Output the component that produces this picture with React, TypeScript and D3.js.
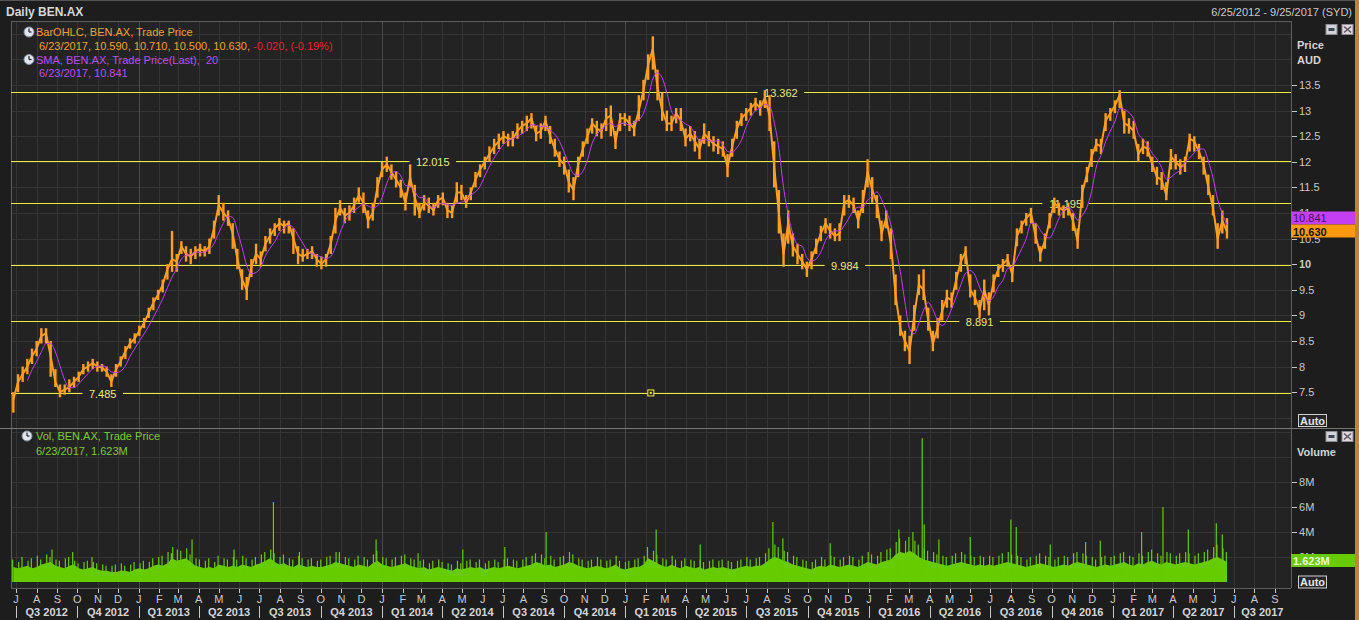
import React from "react";
import * as d3 from "d3";

const FONT = "'Liberation Sans', Arial, Helvetica, sans-serif";

const startDate = "2012-06-25";
const endDate = "2017-09-25";
const firstWeek = "2012-06-25";

// weekly readings (week starting Monday) of the daily OHLC bars
const weeklyClose = [
  7.35, 7.7, 7.85, 8.0, 8.2, 8.35, 8.6, 8.65, 8.2, 7.7,
  7.5, 7.55, 7.6, 7.7, 7.8, 7.95, 8.0, 8.07, 8.0, 7.98,
  7.9, 7.7, 7.95, 8.1, 8.3, 8.45, 8.55, 8.7, 8.85, 9.05,
  9.25, 9.4, 9.6, 9.9, 10.1, 10.05, 10.35, 10.2, 10.15, 10.25,
  10.3, 10.25, 10.35, 10.7, 11.15, 11.0, 10.9, 10.6, 10.1, 9.7,
  9.5, 9.95, 10.2, 10.1, 10.4, 10.55, 10.7, 10.8, 10.75, 10.8,
  10.5, 10.2, 10.15, 10.2, 10.25, 10.1, 10.0, 10.1, 10.4, 10.85,
  11.1, 10.95, 11.0, 11.15, 11.35, 11.2, 10.85, 11.0, 11.5, 11.85,
  11.95, 11.8, 11.65, 11.5, 11.2, 11.7, 11.3, 11.0, 11.2, 11.15,
  11.05, 11.25, 11.3, 11.05, 11.0, 11.4, 11.4, 11.2, 11.4, 11.65,
  11.85, 12.0, 12.15, 12.3, 12.4, 12.5, 12.45, 12.45, 12.6, 12.7,
  12.75, 12.85, 12.55, 12.6, 12.8, 12.5, 12.25, 12.05, 11.95, 11.6,
  11.45, 11.95, 12.25, 12.5, 12.75, 12.65, 12.6, 12.85, 12.9, 12.4,
  12.85, 12.85, 12.75, 12.65, 13.0, 13.4, 13.9, 14.2, 13.45, 13.0,
  12.75, 12.75, 12.95, 12.8, 12.45, 12.55, 12.4, 12.25, 12.55, 12.45,
  12.35, 12.3, 12.25, 11.9, 12.3, 12.65, 12.85, 12.95, 13.05, 13.15,
  13.05, 13.25, 12.9, 11.9, 11.0, 10.2, 10.8, 10.35, 10.2, 10.05,
  9.9, 10.1, 10.35, 10.6, 10.8, 10.65, 10.55, 10.6, 11.2, 11.25,
  11.15, 10.85, 11.2, 11.8, 11.45, 11.2, 10.6, 10.9, 10.4, 9.4,
  8.75, 8.5, 8.3, 9.0, 9.6, 9.5, 8.9, 8.45, 8.75, 9.1,
  9.35, 9.3, 9.7, 10.05, 10.25, 9.5, 9.35, 9.1, 9.5, 9.2,
  9.65, 9.9, 10.0, 10.1, 9.8, 10.55, 10.75, 10.9, 11.0, 10.55,
  10.2, 10.45, 10.85, 11.2, 11.1, 11.05, 11.1, 10.85, 10.45, 11.4,
  11.75, 12.1, 12.35, 12.3, 12.8, 12.95, 13.1, 13.3, 12.75, 12.7,
  12.6, 12.15, 12.3, 12.25, 11.95, 11.7, 11.65, 11.35, 12.1, 12.0,
  11.9, 11.95, 12.45, 12.4, 12.2, 11.95, 11.5, 11.1, 10.5, 10.85,
  10.63,
];

const weeklyHigh = [
  7.5, 7.85, 8.0, 8.15, 8.35, 8.5, 8.75, 8.75, 8.5, 7.95,
  7.65, 7.65, 7.75, 7.8, 7.9, 8.05, 8.1, 8.15, 8.1, 8.05,
  8.0, 7.85, 8.05, 8.2, 8.4, 8.55, 8.65, 8.8, 8.95, 9.15,
  9.35, 9.5, 9.7, 10.0, 10.65, 10.2, 10.45, 10.35, 10.3, 10.35,
  10.4, 10.35, 10.5, 10.85, 11.35, 11.2, 11.05, 10.8, 10.3, 9.9,
  9.75, 10.1, 10.4, 10.25, 10.55, 10.7, 10.8, 10.9, 10.85, 10.85,
  10.7, 10.35, 10.3, 10.3, 10.35, 10.2, 10.15, 10.2, 10.55, 11.1,
  11.25, 11.1, 11.15, 11.3, 11.5, 11.4, 11.05, 11.2, 11.7, 12.0,
  12.1, 11.95, 11.8, 11.65, 11.4, 11.95, 11.55, 11.2, 11.35, 11.3,
  11.2, 11.35, 11.4, 11.2, 11.15, 11.6, 11.55, 11.35, 11.5, 11.8,
  11.95, 12.1, 12.3, 12.45, 12.55, 12.6, 12.55, 12.6, 12.75, 12.8,
  12.9, 12.95, 12.7, 12.75, 12.9, 12.7, 12.45, 12.2, 12.1, 11.85,
  11.7, 12.1, 12.4, 12.65, 12.85, 12.8, 12.75, 13.05, 13.1, 12.6,
  12.95, 12.95, 12.9, 12.8, 13.3, 13.6, 14.1, 14.45, 13.8, 13.35,
  13.0, 12.9, 13.05, 13.05, 12.65, 12.7, 12.6, 12.45, 12.75, 12.6,
  12.5, 12.45, 12.4, 12.15, 12.45, 12.8, 12.95, 13.05, 13.15, 13.25,
  13.2, 13.4, 13.3, 12.4, 11.45, 10.6, 11.05, 10.6, 10.4, 10.2,
  10.05, 10.25, 10.5, 10.75, 10.9, 10.8, 10.7, 10.8, 11.35, 11.35,
  11.3, 11.05, 11.45, 12.05, 11.7, 11.35, 10.85, 11.05, 10.7, 9.8,
  9.0, 8.7, 8.6, 9.2, 9.8, 9.9, 9.15, 8.7, 8.95, 9.3,
  9.5, 9.45, 9.85, 10.2, 10.35, 9.8, 9.5, 9.3, 9.7, 9.45,
  9.8, 10.0, 10.1, 10.2, 9.95, 10.7, 10.85, 11.0, 11.1, 10.8,
  10.35, 10.6, 11.0, 11.3, 11.2, 11.15, 11.2, 11.0, 10.7, 11.55,
  11.9, 12.25, 12.45, 12.45, 12.95, 13.05, 13.2, 13.4, 13.0, 12.85,
  12.8, 12.35, 12.45, 12.4, 12.1, 11.9, 11.8, 11.6, 12.25, 12.15,
  12.05, 12.1, 12.55, 12.5, 12.35, 12.1, 11.75, 11.35, 10.8, 11.05,
  10.9,
];

const weeklyLow = [
  7.1, 7.5, 7.7, 7.85, 8.05, 8.2, 8.45, 8.45, 7.8, 7.6,
  7.4, 7.45, 7.5, 7.6, 7.7, 7.85, 7.9, 7.95, 7.9, 7.9,
  7.8, 7.6, 7.8, 8.0, 8.15, 8.35, 8.45, 8.6, 8.75, 8.95,
  9.1, 9.3, 9.45, 9.7, 9.85, 9.85, 10.2, 10.05, 10.0, 10.1,
  10.15, 10.15, 10.2, 10.5, 10.95, 10.85, 10.75, 10.3, 9.9, 9.5,
  9.3, 9.75, 10.0, 9.95, 10.25, 10.4, 10.55, 10.65, 10.6, 10.6,
  10.2, 10.0, 10.05, 10.1, 10.1, 9.95, 9.9, 9.95, 10.2, 10.6,
  10.95, 10.8, 10.85, 11.0, 11.2, 11.0, 10.7, 10.85, 11.3, 11.7,
  11.8, 11.65, 11.5, 11.3, 11.05, 11.5, 10.95, 10.9, 11.05, 11.0,
  10.95, 11.1, 11.15, 10.9, 10.9, 11.2, 11.25, 11.1, 11.25, 11.5,
  11.7, 11.85, 12.0, 12.15, 12.25, 12.35, 12.3, 12.3, 12.45, 12.55,
  12.6, 12.65, 12.4, 12.45, 12.6, 12.35, 12.1, 11.9, 11.75, 11.4,
  11.25, 11.7, 12.1, 12.35, 12.55, 12.5, 12.45, 12.6, 12.5, 12.25,
  12.6, 12.7, 12.6, 12.5, 12.8, 13.2, 13.6, 13.8, 13.2, 12.8,
  12.6, 12.6, 12.75, 12.6, 12.3, 12.4, 12.2, 12.05, 12.35, 12.3,
  12.2, 12.15, 12.1, 11.7, 12.1, 12.45, 12.7, 12.8, 12.9, 13.0,
  12.9, 13.05, 12.6, 11.5, 10.6, 9.95, 10.4, 10.15, 10.0, 9.9,
  9.75, 9.9, 10.2, 10.45, 10.6, 10.5, 10.45, 10.45, 10.95, 11.1,
  11.0, 10.7, 11.0, 11.5, 11.2, 10.9, 10.45, 10.7, 10.1, 9.2,
  8.6, 8.3, 8.05, 8.7, 9.4, 9.3, 8.7, 8.3, 8.55, 8.9,
  9.15, 9.15, 9.5, 9.85, 10.0, 9.35, 9.2, 8.95, 9.1, 9.0,
  9.45, 9.75, 9.85, 9.95, 9.65, 10.35, 10.6, 10.75, 10.8, 10.4,
  10.05, 10.3, 10.7, 11.0, 10.95, 10.9, 10.95, 10.65, 10.3, 11.1,
  11.6, 11.9, 12.2, 12.15, 12.6, 12.8, 12.95, 13.05, 12.55, 12.55,
  12.45, 12.0, 12.15, 12.1, 11.8, 11.55, 11.45, 11.25, 11.85, 11.85,
  11.75, 11.8, 12.2, 12.2, 12.05, 11.75, 11.35, 10.95, 10.3, 10.6,
  10.5,
];

// weekly typical daily volume, millions
const weeklyVolume = [
  1.2, 1.1, 1.2, 1.3, 1.1, 1.2, 1.4, 1.5,
  1.6, 1.3, 1.2, 1.1, 1.3, 1.4, 1.1, 1.0,
  1.1, 1.2, 1.0, 0.9, 0.9, 0.8, 0.8, 0.9,
  0.9, 0.8, 1.0, 1.1, 1.0, 1.1, 1.3, 1.4,
  1.3, 1.5, 1.9, 1.7, 1.8, 1.9, 1.6, 1.3,
  1.2, 1.1, 1.2, 1.1, 1.4, 1.3, 1.2, 1.3,
  1.2, 1.4, 1.3, 1.2, 1.4, 1.5, 1.7, 1.9,
  1.6, 1.4, 1.5, 1.3, 1.2, 1.4, 1.3, 1.2,
  1.3, 1.2, 1.2, 1.3, 1.4, 1.6, 1.5, 1.4,
  1.3, 1.2, 1.4, 1.3, 1.2, 1.5, 1.7, 1.4,
  1.3, 1.2, 1.3, 1.4, 1.5, 1.3, 1.2, 1.1,
  1.2, 1.0, 1.1, 1.2, 1.1, 1.0, 0.9, 1.1,
  1.0, 1.1, 1.2, 1.1, 1.2, 1.0, 1.1, 1.2,
  1.1, 1.2, 1.3, 1.2, 1.1, 1.2, 1.3, 1.4,
  1.6, 1.5, 1.3, 1.4, 1.2, 1.3, 1.4, 1.6,
  1.5, 1.3, 1.2, 1.1, 1.2, 1.3, 1.2, 1.1,
  1.2, 1.4, 1.1, 1.0, 1.1, 1.2, 1.2, 1.4,
  1.9, 1.7, 1.5, 1.3, 1.2, 1.4, 1.2, 1.1,
  1.3, 1.2, 1.1, 1.2, 1.0, 1.1, 1.2, 1.1,
  1.2, 1.1, 1.0, 1.1, 1.2, 1.3, 1.2, 1.3,
  1.3, 1.5, 1.8, 2.0, 1.9, 1.7, 1.6, 1.4,
  1.3, 1.2, 1.1, 1.0, 1.2, 1.3, 1.2, 1.4,
  1.3, 1.2, 1.3, 1.4, 1.3, 1.2, 1.4, 1.6,
  1.5, 1.4, 1.6, 1.7, 1.8, 2.2, 2.4, 2.3,
  2.5, 2.3, 2.0, 1.8, 1.7, 1.6, 1.5, 1.4,
  1.3, 1.4, 1.5, 1.6, 1.5, 1.4, 1.3, 1.4,
  1.3, 1.4, 1.3, 1.4, 1.5, 1.6, 1.5, 1.4,
  1.3, 1.2, 1.3, 1.4, 1.5, 1.4, 1.3, 1.2,
  1.3, 1.4, 1.3, 1.5, 1.6, 1.5, 1.4, 1.3,
  1.2, 1.3, 1.4, 1.3, 1.4, 1.5, 1.6, 1.4,
  1.3, 1.5, 1.4, 1.6, 1.7, 1.5, 1.4, 1.6,
  1.5, 1.4, 1.5, 1.6, 1.5, 1.4, 1.5, 1.6,
  1.7, 1.9, 2.0, 1.8, 1.6,
];

// weekly highest daily volume, millions
const weeklyVolumePeak = [
  1.8, 1.6, 2.0, 1.7, 1.9, 2.1, 1.8, 2.2,
  2.0, 1.8, 1.7, 1.9, 2.0, 1.7, 1.5, 1.6,
  1.7, 1.6, 1.5, 1.4, 1.3, 1.3, 1.4, 1.5,
  1.3, 1.4, 1.6, 1.5, 1.7, 1.6, 1.9, 2.0,
  2.1, 2.4, 2.3, 2.6, 2.5, 2.7, 2.2, 1.9,
  1.8, 1.7, 1.9, 1.6, 2.1, 1.9, 1.8, 2.0,
  1.8, 2.1, 1.9, 1.8, 2.0, 2.2, 2.4, 2.6,
  2.3, 2.0, 2.2, 1.9, 1.8, 2.1, 1.9, 1.8,
  1.9, 1.7, 1.8, 2.0, 2.1, 2.4, 2.2, 2.0,
  1.9, 1.8, 2.1, 2.0, 1.8, 2.2, 2.5, 2.0,
  1.9, 1.8, 2.0, 2.1, 2.2, 1.9, 1.8, 1.7,
  1.8, 1.5, 1.7, 1.8, 1.6, 1.5, 1.4, 1.7,
  1.5, 1.7, 1.8, 1.6, 1.8, 1.5, 1.7, 1.8,
  1.6, 1.8, 1.9, 1.8, 1.7, 1.8, 2.0, 2.1,
  2.3, 2.2, 1.9, 2.1, 1.8, 2.0, 2.1, 2.4,
  2.2, 1.9, 1.8, 1.7, 1.8, 2.0, 1.8, 1.7,
  1.8, 2.1, 1.7, 1.6, 1.7, 1.8, 1.9, 2.1,
  2.8, 2.5, 2.2, 1.9, 1.8, 2.1, 1.8, 1.7,
  1.9, 1.8, 1.7, 1.8, 1.6, 1.7, 1.8, 1.7,
  1.8, 1.7, 1.6, 1.7, 1.8, 2.0, 1.8, 1.9,
  2.0, 2.3, 2.7, 3.0, 2.8, 2.5, 2.4, 2.1,
  2.0, 1.8, 1.7, 1.6, 1.8, 2.0, 1.8, 2.1,
  2.0, 1.8, 2.0, 2.1, 2.0, 1.8, 2.1, 2.4,
  2.2, 2.1, 2.4, 2.6, 2.7, 3.2, 3.5, 3.3,
  3.6, 3.3, 3.0, 2.7, 2.5, 2.4, 2.2, 2.1,
  2.0, 2.1, 2.3, 2.4, 2.2, 2.1, 2.0, 2.1,
  2.0, 2.1, 2.0, 2.1, 2.3, 2.4, 2.2, 2.1,
  2.0, 1.8, 2.0, 2.1, 2.3, 2.1, 2.0, 1.8,
  2.0, 2.1, 2.0, 2.3, 2.4, 2.3, 2.1, 2.0,
  1.8, 2.0, 2.1, 2.0, 2.1, 2.3, 2.4, 2.1,
  2.0, 2.3, 2.1, 2.4, 2.6, 2.3, 2.1, 2.4,
  2.3, 2.1, 2.3, 2.4, 2.3, 2.1, 2.3, 2.4,
  2.6, 2.8, 3.0, 2.7, 2.4,
];

const spikeDates = [
  "2012-08-24", "2012-09-24", "2012-10-23", "2013-02-21", "2013-03-22",
  "2013-05-24", "2013-07-22", "2013-08-30", "2013-10-29", "2013-12-23",
  "2014-02-24", "2014-05-02", "2014-07-04", "2014-09-04", "2015-02-16",
  "2015-04-23", "2015-08-10", "2015-08-25", "2015-11-04", "2016-02-15",
  "2016-03-07", "2016-03-21", "2016-03-24", "2016-04-15", "2016-06-01",
  "2016-08-01", "2016-08-09", "2016-09-29", "2016-11-21", "2016-12-13",
  "2017-02-13", "2017-03-17", "2017-04-24", "2017-06-05", "2017-06-14",
];
const spikeValues = [
  2.6, 2.4, 2.0, 2.8, 3.4,
  2.6, 6.4, 2.4, 2.4, 3.4,
  2.3, 2.6, 2.8, 4.0, 4.2,
  3.0, 4.8, 3.5, 3.1, 4.2,
  4.0, 11.5, 4.6, 3.4, 3.6,
  5.0, 4.4, 3.0, 3.2, 3.3,
  4.0, 6.0, 4.2, 4.7, 3.8,
];

const levelValues = [13.362, 12.015, 11.195, 9.984, 8.891, 7.485];
const levelLabels = ["13.362", "12.015", "11.195", "9.984", "8.891", "7.485"];
const levelLabelDates = ["2015-08-22", "2014-03-18", "2016-10-22", "2015-11-26", "2016-06-15", "2012-11-08"];
const markerDate = "2015-02-08";
const markerValue = 7.485;

const priceTicks = [7.5, 8, 8.5, 9, 9.5, 10, 10.5, 11, 11.5, 12, 12.5, 13, 13.5];
const priceGrid = [7, 7.5, 8, 8.5, 9, 9.5, 10, 10.5, 11, 11.5, 12, 12.5, 13, 13.5, 14, 14.5];
const volumeTicks = [2, 4, 6, 8];
const volumeGrid = [2, 4, 6, 8, 10, 12];
const monthLetters = ["J", "F", "M", "A", "M", "J", "J", "A", "S", "O", "N", "D"];

const smaWeeks = 4; // 20 trading days
const lastClose = "10.630";
const lastSma = "10.841";
const lastVolume = "1.623M";

const parse = d3.timeParse("%Y-%m-%d");

// layout
const PL = 11, PR = 1291, PT = 21, PB = 428, VB = 588;

const C_BG = "#1d1d1d";
const C_PLOT = "#232323";
const C_GRID = "#353535";
const C_FRAME = "#5e5e5e";
const C_TEXT = "#c8c8c8";
const C_ORANGE = "#ff9e1f";
const C_PURPLE = "#c13ff0";
const C_YELLOW = "#f0ea3c";
const C_GREEN = "#66cc00";

function ClockIcon({ x, y }: { x: number; y: number }) {
  return (
    <g>
      <circle cx={x} cy={y} r={5} fill="#dfe6ee" stroke="#7f8fa0" strokeWidth={1} />
      <line x1={x} y1={y} x2={x} y2={y - 3.5} stroke="#222" strokeWidth={1.2} />
      <line x1={x} y1={y} x2={x + 2.5} y2={y} stroke="#222" strokeWidth={1.2} />
    </g>
  );
}

function PanelIcons({ y }: { y: number }) {
  return (
    <g>
      <rect x={1326} y={y} width={11} height={10} fill="#cfd3d8" stroke="#8a8e94" />
      <rect x={1328.5} y={y + 3.5} width={6} height={3} fill="#3c4654" />
      <rect x={1342} y={y} width={11} height={10} fill="#e6d6dc" stroke="#8a8e94" />
      <line x1={1344} y1={y + 2} x2={1351} y2={y + 8} stroke="#5a5a66" strokeWidth={1.6} />
      <line x1={1351} y1={y + 2} x2={1344} y2={y + 8} stroke="#5a5a66" strokeWidth={1.6} />
    </g>
  );
}

function AutoBox({ y }: { y: number }) {
  return (
    <g>
      <rect x={1298.5} y={y} width={28} height={12} fill="#262626" stroke="#cfcfcf" strokeWidth={1} />
      <text x={1312.5} y={y + 10} textAnchor="middle" fontFamily={FONT} fontSize={11} fontWeight="bold" fill="#e4e4e4">Auto</text>
    </g>
  );
}

export default function App() {
  const x = d3.scaleTime().domain([parse(startDate)!, parse(endDate)!]).range([12, PR]);
  const yP = d3.scaleLinear().domain([6.8, 14.75]).range([PB, PT]);
  const yV = d3.scaleLinear().domain([0, 12.32]).range([582, PB]);

  const week0 = parse(firstWeek)!;
  const weeks = weeklyClose.map((c, i) => ({
    date: d3.timeDay.offset(week0, i * 7 + 2),
    peakDate: d3.timeDay.offset(week0, i * 7 + (i % 2 === 0 ? 1 : 3)),
    close: c,
    high: weeklyHigh[i],
    low: weeklyLow[i],
    vol: weeklyVolume[i],
    peak: weeklyVolumePeak[i],
  }));
  const sma = weeks
    .map((w, i) => ({
      date: w.date,
      v: i >= smaWeeks - 1 ? d3.mean(weeklyClose.slice(i - smaWeeks + 1, i + 1))! : NaN,
    }))
    .filter((d) => !isNaN(d.v));

  const closeLine = d3.line<any>().x((d) => x(d.date)).y((d) => yP(d.close));
  const smaLine = d3.line<any>().x((d) => x(d.date)).y((d) => yP(d.v)).curve(d3.curveMonotoneX);
  const volArea = d3
    .area<any>()
    .x((d) => x(d.date))
    .y0(yV(0))
    .y1((d) => yV(d.vol));

  const months = d3.timeMonth.range(d3.timeMonth.ceil(parse(startDate)!), parse(endDate)!);
  const quarters = months.filter((m) => m.getMonth() % 3 === 0);
  const endD = parse(endDate)!;

  return (
    <svg
      width={1359}
      height={620}
      style={{ position: "fixed", left: 0, top: 0, display: "block" }}
      fontFamily={FONT}
    >
      <rect x={0} y={0} width={1359} height={620} fill={C_BG} />
      {/* header */}
      <line x1={0} y1={0.5} x2={1355} y2={0.5} stroke="#555" />
      <text x={6} y={16} fontSize={12} fontWeight="bold" fill="#d6d6d6">Daily BEN.AX</text>
      <text x={1352} y={16} fontSize={11} fill={C_TEXT} textAnchor="end">6/25/2012 - 9/25/2017 (SYD)</text>

      {/* plot backgrounds */}
      <rect x={PL} y={PT} width={PR - PL} height={VB - PT} fill={C_PLOT} />

      {/* grid */}
      {priceGrid.map((v) => (
        <line key={"pg" + v} x1={PL} x2={PR} y1={Math.round(yP(v)) + 0.5} y2={Math.round(yP(v)) + 0.5} stroke={C_GRID} />
      ))}
      {volumeGrid.map((v) => (
        <line key={"vg" + v} x1={PL} x2={PR} y1={Math.round(yV(v)) + 0.5} y2={Math.round(yV(v)) + 0.5} stroke={C_GRID} />
      ))}
      {months.map((m, i) => (
        <line
          key={"mg" + i}
          x1={Math.round(x(m)) + 0.5}
          x2={Math.round(x(m)) + 0.5}
          y1={PT}
          y2={VB}
          stroke={m.getMonth() === 0 ? "#4a4a4a" : C_GRID}
        />
      ))}

      {/* frame */}
      <line x1={PL + 0.5} y1={PT} x2={PL + 0.5} y2={VB} stroke={C_FRAME} />
      <line x1={PL} y1={PT + 0.5} x2={PR} y2={PT + 0.5} stroke={C_FRAME} />
      <line x1={PR + 0.5} y1={PT} x2={PR + 0.5} y2={VB} stroke={C_FRAME} />
      <line x1={0} y1={PB + 0.5} x2={1355} y2={PB + 0.5} stroke="#777" />
      <line x1={PL} y1={VB + 0.5} x2={PR} y2={VB + 0.5} stroke={C_FRAME} />

      {/* horizontal level lines */}
      {levelValues.map((v, i) => {
        const yy = Math.round(yP(v)) + 0.5;
        const cx = x(parse(levelLabelDates[i])!);
        const w = levelLabels[i].length * 6.1 + 10;
        return (
          <g key={"lv" + i}>
            <line x1={PL} x2={PR} y1={yy} y2={yy} stroke={C_YELLOW} strokeWidth={1} />
            <rect x={cx - w / 2} y={yy - 6} width={w} height={12} fill={C_PLOT} />
            <text x={cx} y={yy + 4} textAnchor="middle" fontSize={11} fill="#ece87a">{levelLabels[i]}</text>
          </g>
        );
      })}

      {/* price bars */}
      <g stroke={C_ORANGE}>
        {weeks.map((w, i) => (
          <line key={"b" + i} x1={x(w.date)} x2={x(w.date)} y1={yP(w.high)} y2={yP(w.low)} strokeWidth={2.4} />
        ))}
      </g>
      <path d={closeLine(weeks) || ""} fill="none" stroke={C_ORANGE} strokeWidth={2} strokeLinejoin="round" />
      <path d={smaLine(sma) || ""} fill="none" stroke={C_PURPLE} strokeWidth={1} />

      {/* marker */}
      <rect x={x(parse(markerDate)!) - 3} y={yP(markerValue) - 3} width={6} height={6} fill="#2a2a10" stroke={C_YELLOW} strokeWidth={1} />
      <rect x={x(parse(markerDate)!) - 1} y={yP(markerValue) - 1} width={2} height={2} fill={C_YELLOW} />

      {/* volume */}
      <path d={volArea(weeks) || ""} fill={C_GREEN} />
      <g stroke={C_GREEN} strokeWidth={1.2}>
        {weeks.map((w, i) => (
          <line key={"vp" + i} x1={x(w.peakDate)} x2={x(w.peakDate)} y1={yV(0)} y2={yV(w.peak)} />
        ))}
        {spikeDates.map((d, i) => (
          <line key={"s" + i} x1={x(parse(d)!)} x2={x(parse(d)!)} y1={yV(0)} y2={yV(spikeValues[i])} />
        ))}
      </g>

      {/* legends */}
      <ClockIcon x={29} y={32} />
      <text x={36} y={36} fontSize={11} fill="#f0a030">BarOHLC, BEN.AX, Trade Price</text>
      <text x={39} y={49.5} fontSize={11} fill="#f0a030">
        6/23/2017, 10.590, 10.710, 10.500, 10.630, <tspan fill="#e8202a">-0.020, (-0.19%)</tspan>
      </text>
      <ClockIcon x={29} y={59.5} />
      <text x={36} y={63.5} fontSize={11} fill="#bb4cf0" style={{ whiteSpace: "pre" }}>SMA, BEN.AX, Trade Price(Last),  20</text>
      <text x={39} y={77} fontSize={11} fill="#bb4cf0">6/23/2017, 10.841</text>

      <ClockIcon x={27} y={436} />
      <text x={36} y={440} fontSize={11} fill="#7dcc2e">Vol, BEN.AX, Trade Price</text>
      <text x={36} y={454.5} fontSize={11} fill="#7dcc2e">6/23/2017, 1.623M</text>

      {/* right axis: price */}
      <PanelIcons y={24.5} />
      <text x={1297} y={49} fontSize={11} fontWeight="bold" fill="#d4d4d4">Price</text>
      <text x={1297} y={64} fontSize={11} fontWeight="bold" fill="#d4d4d4">AUD</text>
      {priceTicks.map((v) => (
        <g key={"pt" + v}>
          <line x1={PR + 1} x2={PR + 6} y1={Math.round(yP(v)) + 0.5} y2={Math.round(yP(v)) + 0.5} stroke={C_TEXT} />
          <text x={1299} y={yP(v) + 4} fontSize={11} fill={C_TEXT} fontWeight={v === 10 ? "bold" : "normal"}>
            {v}
          </text>
        </g>
      ))}
      <rect x={PR} y={211.5} width={64} height={13} fill="#c43ef2" />
      <text x={1293} y={222} fontSize={11} fill="#4a0d66">{lastSma}</text>
      <rect x={PR} y={224.5} width={64} height={13} fill="#ff9a10" />
      <text x={1293} y={235.5} fontSize={11} fontWeight="bold" fill="#111">{lastClose}</text>
      <AutoBox y={414.5} />

      {/* right axis: volume */}
      <PanelIcons y={431.5} />
      <text x={1297} y={456} fontSize={11} fontWeight="bold" fill="#d4d4d4">Volume</text>
      {volumeTicks.map((v) => (
        <g key={"vt" + v}>
          <line x1={PR + 1} x2={PR + 6} y1={Math.round(yV(v)) + 0.5} y2={Math.round(yV(v)) + 0.5} stroke={C_TEXT} />
          <text x={1299} y={yV(v) + 4} fontSize={11} fill={C_TEXT}>{v}M</text>
        </g>
      ))}
      <rect x={PR} y={554} width={64} height={13} fill="#66cc00" />
      <text x={1293} y={564.5} fontSize={11} fontWeight="bold" fill="#eaffd6">{lastVolume}</text>
      <AutoBox y={576} />

      {/* x axis */}
      {months.map((m, i) => (
        <g key={"mt" + i}>
          <line x1={Math.round(x(m)) + 0.5} x2={Math.round(x(m)) + 0.5} y1={VB + 1} y2={VB + 5} stroke={C_TEXT} />
          <text x={x(m)} y={603} textAnchor="middle" fontSize={11} fill={C_TEXT}>
            {monthLetters[m.getMonth()]}
          </text>
        </g>
      ))}
      {quarters.map((q, i) => {
        const qEnd = d3.timeMonth.offset(q, 3);
        const e = qEnd > endD ? endD : qEnd;
        const cx = (x(q) + x(e)) / 2;
        const label = `Q${Math.floor(q.getMonth() / 3) + 1} ${q.getFullYear()}`;
        return (
          <g key={"q" + i}>
            <line x1={Math.round(x(q)) + 0.5} x2={Math.round(x(q)) + 0.5} y1={606} y2={618} stroke={C_TEXT} />
            <text x={cx} y={616} textAnchor="middle" fontSize={11} fontWeight="bold" fill="#d4d4d4">
              {label}
            </text>
          </g>
        );
      })}

      {/* right border */}
      <rect x={1355} y={0} width={4} height={620} fill="#c9822c" />
    </svg>
  );
}
